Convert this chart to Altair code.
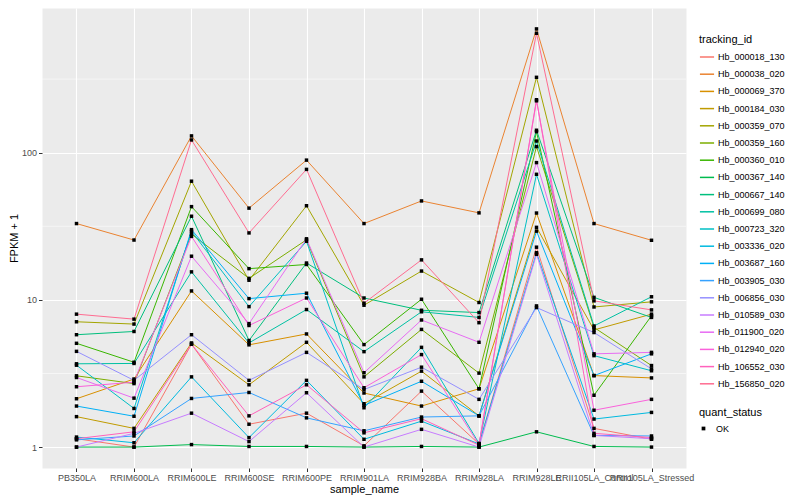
import altair as alt
import numpy as np
import pandas as pd

samples = ["PB350LA", "RRIM600LA", "RRIM600LE", "RRIM600SE", "RRIM600PE", "RRIM901LA",
           "RRIM928BA", "RRIM928LA", "RRIM928LE", "RRII105LA_Control", "RRII105LA_Stressed"]

tracking_ids = ["Hb_000018_130", "Hb_000038_020", "Hb_000069_370", "Hb_000184_030",
                "Hb_000359_070", "Hb_000359_160", "Hb_000360_010", "Hb_000367_140",
                "Hb_000667_140", "Hb_000699_080", "Hb_000723_320", "Hb_003336_020",
                "Hb_003687_160", "Hb_003905_030", "Hb_006856_030", "Hb_010589_030",
                "Hb_011900_020", "Hb_012940_020", "Hb_106552_030", "Hb_156850_020"]

palette = ["#F8766D", "#EA8331", "#D89000", "#C09B00", "#A3A500", "#7CAE00", "#39B600",
           "#00BB4E", "#00BF7D", "#00C1A3", "#00BFC4", "#00BAE0", "#00B0F6", "#35A2FF",
           "#9590FF", "#C77CFF", "#E76BF3", "#FA62DB", "#FF62BC", "#FF6C91"]

# FPKM + 1 per sample (same order as samples)
hb_000018_130 = [1.14, 1.0, 5.0, 1.43, 1.7, 1.02, 2.4, 1.05, 22.8, 1.34, 1.13]
hb_000038_020 = [33, 25.5, 130, 42, 89, 33, 47, 39, 693, 33, 25.4]
hb_000069_370 = [2.13, 2.9, 11.5, 4.95, 5.87, 2.33, 1.9, 2.49, 38.9, 3.06, 2.95]
hb_000184_030 = [1.61, 1.34, 5.1, 2.65, 5.15, 1.97, 3.28, 1.63, 31.1, 6.25, 8.0]
hb_000359_070 = [7.1, 6.85, 64, 13.6, 43.6, 9.2, 15.7, 9.6, 325, 8.95, 9.7]
hb_000359_160 = [3.05, 2.7, 28, 14, 25.6, 3.0, 6.3, 3.18, 110, 6.5, 3.58]
hb_000360_010 = [5.07, 3.77, 43, 16.3, 17.4, 4.97, 10.1, 2.49, 139, 2.25, 7.8]
hb_000367_140 = [1.0, 1.0, 1.04, 1.01, 1.01, 1.0, 1.01, 1.0, 1.27, 1.01, 1.0]
hb_000667_140 = [5.8, 6.1, 37, 5.3, 17.8, 10.3, 8.5, 8.2, 142, 10.4, 7.6]
hb_000699_080 = [3.68, 3.7, 15.5, 5.1, 8.6, 4.45, 8.3, 7.6, 120, 6.65, 10.5]
hb_000723_320 = [3.6, 1.83, 29.2, 9.0, 25, 1.85, 4.76, 1.06, 71.3, 4.18, 3.3]
hb_003336_020 = [1.17, 1.07, 3.0, 1.16, 2.84, 1.13, 1.5, 1.05, 20.9, 1.55, 1.72]
hb_003687_160 = [1.9, 1.62, 30, 10.2, 11.1, 1.92, 2.8, 1.63, 29.3, 3.06, 4.3]
hb_003905_030 = [1.12, 1.19, 2.14, 2.35, 1.58, 1.29, 1.6, 1.63, 9.1, 1.2, 1.19]
hb_006856_030 = [4.47, 2.84, 5.8, 2.84, 4.4, 2.46, 3.49, 2.11, 8.87, 6.0, 3.4]
hb_010589_030 = [1.0, 1.24, 1.7, 1.09, 2.34, 1.0, 1.32, 1.0, 20.4, 1.2, 1.14]
hb_011900_020 = [2.97, 2.15, 19.8, 6.9, 26, 3.2, 7.3, 5.15, 85.6, 4.3, 4.4]
hb_012940_020 = [2.57, 2.76, 27, 6.7, 10.3, 2.53, 4.25, 1.04, 225, 1.78, 2.11]
hb_106552_030 = [1.14, 1.27, 5.0, 1.63, 2.65, 1.25, 1.56, 1.03, 229, 1.24, 1.16]
hb_156850_020 = [8.0, 7.4, 122, 28.5, 77, 9.5, 18.7, 7.0, 647, 9.85, 8.55]

series = [hb_000018_130, hb_000038_020, hb_000069_370, hb_000184_030, hb_000359_070,
          hb_000359_160, hb_000360_010, hb_000367_140, hb_000667_140, hb_000699_080,
          hb_000723_320, hb_003336_020, hb_003687_160, hb_003905_030, hb_006856_030,
          hb_010589_030, hb_011900_020, hb_012940_020, hb_106552_030, hb_156850_020]

major_breaks = [1, 10, 100]
minor_breaks = [10 ** 0.5, 10 ** 1.5, 10 ** 2.5]

rows = []
for tid, vals in zip(tracking_ids, series):
    for s, v in zip(samples, vals):
        rows.append({"tracking_id": tid, "sample_name": s, "fpkm1": v, "quant_status": "OK"})
df = pd.DataFrame(rows)

lo = np.log10(df["fpkm1"].min())
hi = np.log10(df["fpkm1"].max())
pad = (hi - lo) * 0.05
ydomain = [10 ** (lo - pad), 10 ** (hi + pad)]

FONT = "Liberation Sans"

xenc = alt.X("sample_name:N", sort=samples,
             scale=alt.Scale(type="point", padding=0.6),
             axis=alt.Axis(title="sample_name", labelAngle=0, labelOverlap=False, labelBound=False,
                           labelFontSize=9, labelColor="#4D4D4D", tickColor="#333333", tickSize=3.5,
                           domain=False, grid=True, gridColor="white", gridWidth=1.1,
                           titleFontSize=11, titleFontWeight="normal", titleColor="black",
                           labelPadding=1.5, titlePadding=1))
ysc = alt.Scale(type="log", domain=ydomain, nice=False)
yax = alt.Axis(title="FPKM + 1", values=major_breaks, format="d", labelFontSize=9,
               labelColor="#4D4D4D", tickColor="#333333", tickSize=3.5, domain=False,
               grid=True, gridColor="white", gridWidth=1.1, titleFontSize=11,
               titleFontWeight="normal", titleColor="black", labelPadding=2, titlePadding=2)

minor_df = pd.DataFrame({"fpkm1": minor_breaks})
minor = alt.Chart(minor_df).mark_rule(color="white", strokeWidth=0.55).encode(
    y=alt.Y("fpkm1:Q", scale=ysc, axis=yax)
)

lines = alt.Chart(df).mark_line(strokeWidth=1).encode(
    x=xenc,
    y=alt.Y("fpkm1:Q", scale=ysc, axis=yax),
    color=alt.Color("tracking_id:N", scale=alt.Scale(domain=tracking_ids, range=palette),
                    legend=alt.Legend(title="tracking_id", symbolType="stroke", symbolSize=200,
                                      symbolStrokeWidth=1.5, orient="none", legendX=657, legendY=26,
                                      labelFontSize=9, titleFontSize=11, titleFontWeight="normal",
                                      rowPadding=4.2, labelOffset=3, titlePadding=4,
                                      labelColor="black", titleColor="black")),
    order="tracking_id:N",
)

points = alt.Chart(df).mark_point(filled=True, size=12, opacity=1, color="black").encode(
    x=xenc,
    y=alt.Y("fpkm1:Q", scale=ysc, axis=yax),
    shape=alt.Shape("quant_status:N", scale=alt.Scale(domain=["OK"], range=["square"]),
                    legend=alt.Legend(title="quant_status", orient="none", legendX=657, legendY=399,
                                      labelFontSize=9, titleFontSize=11, titleFontWeight="normal",
                                      symbolSize=14, symbolFillColor="black", symbolStrokeColor="black",
                                      labelOffset=8, titlePadding=6,
                                      labelColor="black", titleColor="black")),
)

chart = alt.layer(minor, lines, points).properties(
    width=644, height=460,
    padding={"left": 0, "top": 0, "right": 5, "bottom": 5},
).configure(font=FONT).configure_view(fill="#EBEBEB", stroke="transparent")

chart.save("out.html", embed_options={"renderer": "svg", "actions": False})
